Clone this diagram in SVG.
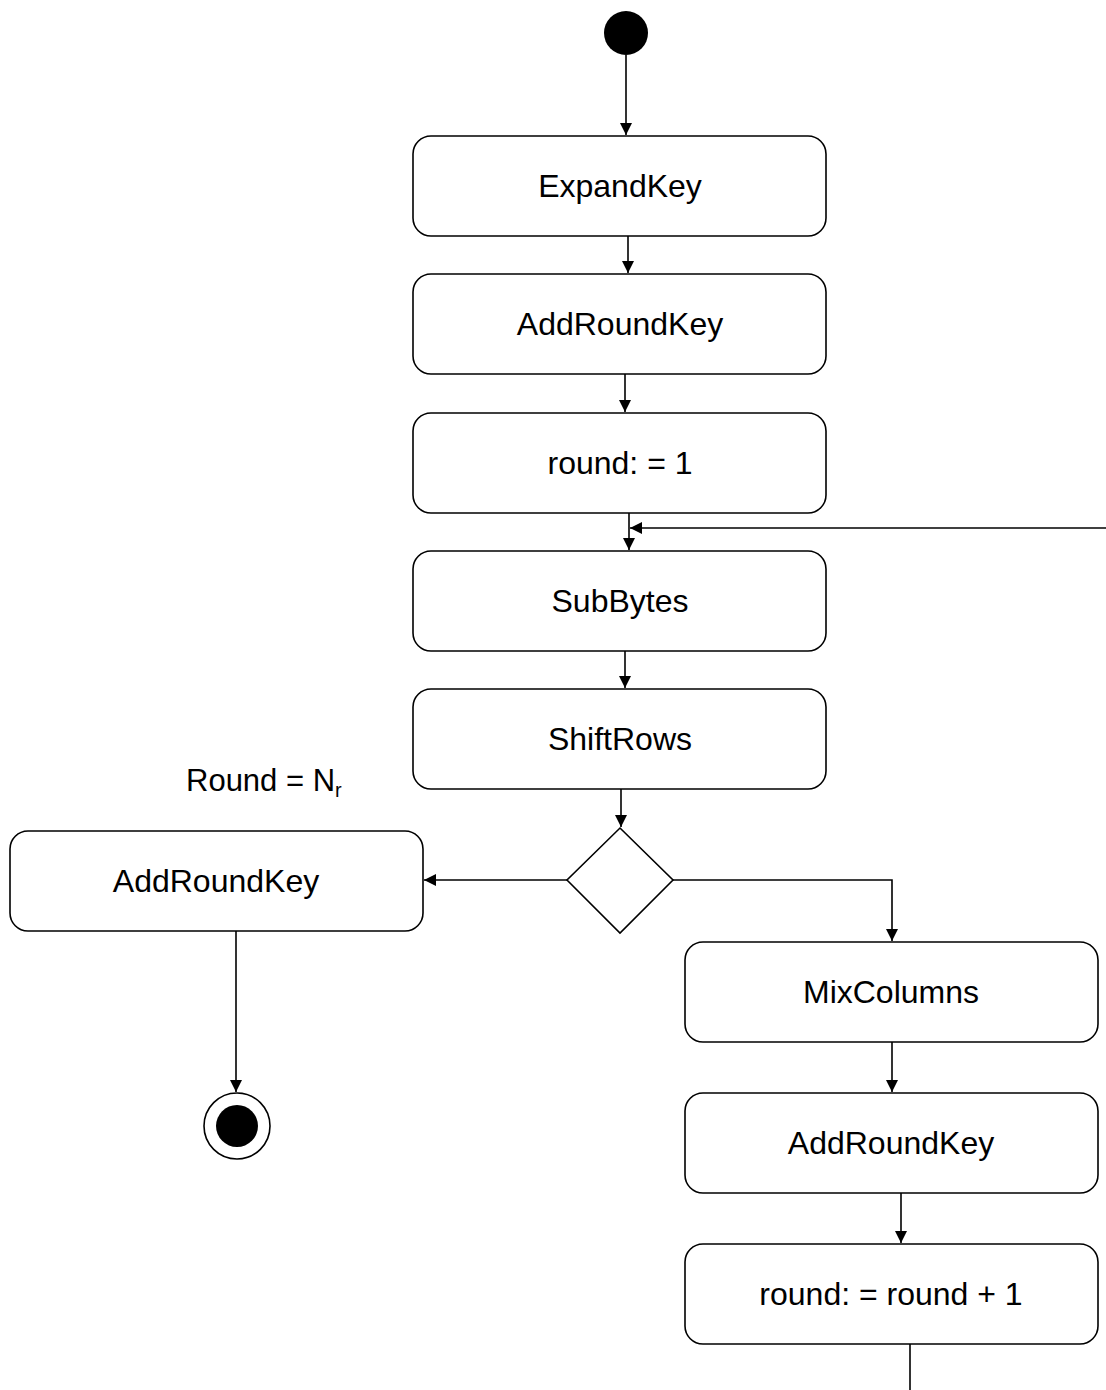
<svg xmlns="http://www.w3.org/2000/svg" width="1106" height="1390" viewBox="0 0 1106 1390">
<style>
.box{fill:#fff;stroke:#000;stroke-width:1.6}
.t{font-family:"Liberation Sans",Arial,sans-serif;font-size:32px;fill:#000;text-anchor:middle;dominant-baseline:central}
.c{fill:none;stroke:#000;stroke-width:1.6}
</style>
<defs>
<marker id="ah" viewBox="0 0 12 12" refX="12" refY="6" markerWidth="12" markerHeight="12" markerUnits="userSpaceOnUse" orient="auto">
<path d="M0,0 L12,6 L0,12 Z" fill="#000"/>
</marker>
</defs>
<rect width="1106" height="1390" fill="#fff"/>
<g id="connectors">
<line class="c" x1="626" y1="55" x2="626" y2="135" marker-end="url(#ah)"/>
<line class="c" x1="628" y1="236" x2="628" y2="273" marker-end="url(#ah)"/>
<line class="c" x1="625" y1="374" x2="625" y2="412" marker-end="url(#ah)"/>
<line class="c" x1="629" y1="513" x2="629" y2="550" marker-end="url(#ah)"/>
<line class="c" x1="1106" y1="528" x2="630" y2="528" marker-end="url(#ah)"/>
<line class="c" x1="625" y1="651" x2="625" y2="688" marker-end="url(#ah)"/>
<line class="c" x1="621" y1="789" x2="621" y2="827" marker-end="url(#ah)"/>
<line class="c" x1="567" y1="880" x2="424" y2="880" marker-end="url(#ah)"/>
<polyline class="c" points="673,880 892,880 892,941" marker-end="url(#ah)"/>
<line class="c" x1="236" y1="931" x2="236" y2="1092" marker-end="url(#ah)"/>
<line class="c" x1="892" y1="1042" x2="892" y2="1092" marker-end="url(#ah)"/>
<line class="c" x1="901" y1="1193" x2="901" y2="1243" marker-end="url(#ah)"/>
<line class="c" x1="910" y1="1344" x2="910" y2="1390"/>
</g>
<g id="start"><circle cx="626" cy="33" r="22" fill="#000"/></g>
<g id="expandkey"><rect class="box" x="413" y="136" width="413" height="100" rx="18"/><text class="t" x="620" y="186">ExpandKey</text></g>
<g id="addroundkey1"><rect class="box" x="413" y="274" width="413" height="100" rx="18"/><text class="t" x="620" y="324">AddRoundKey</text></g>
<g id="round1"><rect class="box" x="413" y="413" width="413" height="100" rx="18"/><text class="t" x="620" y="463">round: = 1</text></g>
<g id="subbytes"><rect class="box" x="413" y="551" width="413" height="100" rx="18"/><text class="t" x="620" y="601">SubBytes</text></g>
<g id="shiftrows"><rect class="box" x="413" y="689" width="413" height="100" rx="18"/><text class="t" x="620" y="739">ShiftRows</text></g>
<g id="decision"><polygon points="620,828 673,880 620,933 567,880" fill="#fff" stroke="#000" stroke-width="1.6"/></g>
<g id="guard"><text font-family="&quot;Liberation Sans&quot;,Arial,sans-serif" font-size="31" x="186" y="791">Round = N<tspan font-size="20" dy="6">r</tspan></text></g>
<g id="addroundkey-final"><rect class="box" x="10" y="831" width="413" height="100" rx="18"/><text class="t" x="216" y="881">AddRoundKey</text></g>
<g id="end"><circle cx="237" cy="1126" r="33" fill="#fff" stroke="#000" stroke-width="1.6"/><circle cx="237" cy="1126" r="21" fill="#000"/></g>
<g id="mixcolumns"><rect class="box" x="685" y="942" width="413" height="100" rx="18"/><text class="t" x="891" y="992">MixColumns</text></g>
<g id="addroundkey2"><rect class="box" x="685" y="1093" width="413" height="100" rx="18"/><text class="t" x="891" y="1143">AddRoundKey</text></g>
<g id="roundinc"><rect class="box" x="685" y="1244" width="413" height="100" rx="18"/><text class="t" x="891" y="1294">round: = round + 1</text></g>
</svg>
